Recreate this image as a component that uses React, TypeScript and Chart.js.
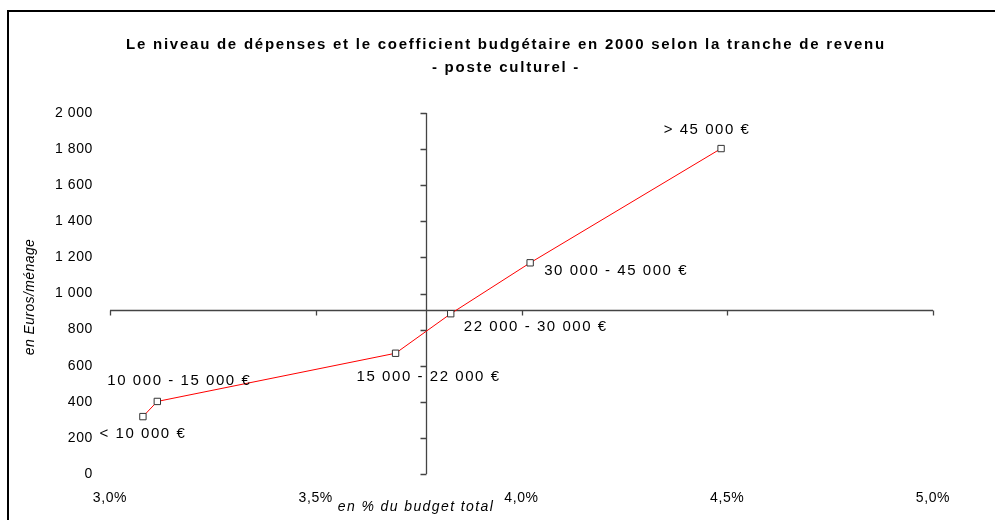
import React, { useEffect, useRef } from "react";
import { Chart, registerables } from "chart.js";

Chart.register(...registerables);

// ---- data ----
const shareOfBudget = [3.08, 3.115, 3.694, 3.828, 4.021, 4.485]; // % of total budget
const spending = [318, 402, 669, 888, 1170, 1803]; // euros per household
const bracketLabels = [
  "< 10 000 €",
  "10 000 - 15 000 €",
  "15 000 - 22 000 €",
  "22 000 - 30 000 €",
  "30 000 - 45 000 €",
  "> 45 000 €",
];
const titleLines = [
  "Le niveau de dépenses et le coefficient budgétaire en 2000 selon la tranche de revenu",
  "- poste culturel -",
];
const yAxisTitle = "en Euros/ménage";
const xAxisTitle = "en % du budget total";
const X_MIN = 3;
const X_MAX = 5;
const X_STEP = 0.5;
const Y_MIN = 0;
const Y_MAX = 2000;
const Y_STEP = 200;
const CROSS_X = 3.768; // vertical axis crosses here
const CROSS_Y = 910; // horizontal axis crosses here

// ---- style ----
const FONT = '"Liberation Sans", Arial, sans-serif';
const labelOffsets = [
  [0, 17],
  [22, -21],
  [33, 24],
  [85, 13],
  [86, 8],
  [-14, -19],
];

const formatY = (v: number) =>
  v >= 1000 ? `${Math.floor(v / 1000)} ${String(v % 1000).padStart(3, "0")}` : String(v);
const formatX = (v: number) => v.toFixed(1).replace(".", ",") + "%";

const decor = {
  id: "decor",
  beforeDraw(chart: any) {
    const ctx = chart.ctx;
    ctx.save();
    ctx.fillStyle = "#fff";
    ctx.fillRect(0, 0, chart.width, chart.height);
    ctx.fillStyle = "#000";
    ctx.fillRect(7, 10, 2, chart.height - 10);
    ctx.fillRect(7, 10, chart.width - 7, 2);
    ctx.font = `bold 15px ${FONT}`;
    ctx.letterSpacing = "1.75px";
    ctx.textAlign = "center";
    ctx.textBaseline = "middle";
    ctx.fillText(titleLines[0], 506, 45);
    ctx.fillText(titleLines[1], 506, 68);
    ctx.restore();
    ctx.letterSpacing = "0.6px";
  },
  beforeDatasetsDraw(chart: any) {
    const ctx = chart.ctx;
    const xs = chart.scales.x;
    const ys = chart.scales.y;
    const ax = Math.round(xs.getPixelForValue(CROSS_X)) + 0.5;
    const ay = Math.round(ys.getPixelForValue(CROSS_Y)) + 0.5;
    const x0 = xs.getPixelForValue(X_MIN);
    const x1 = xs.getPixelForValue(X_MAX);
    const y0 = ys.getPixelForValue(Y_MIN);
    const y1 = ys.getPixelForValue(Y_MAX);
    ctx.save();
    ctx.strokeStyle = "#444";
    ctx.lineWidth = 1.3;
    ctx.beginPath();
    ctx.moveTo(x0, ay);
    ctx.lineTo(x1, ay);
    for (let v = X_MIN; v <= X_MAX + 1e-9; v += X_STEP) {
      const px = Math.round(xs.getPixelForValue(v)) + 0.5;
      ctx.moveTo(px, ay);
      ctx.lineTo(px, ay + 5);
    }
    ctx.moveTo(ax, y0);
    ctx.lineTo(ax, y1);
    for (let v = Y_MIN; v <= Y_MAX; v += Y_STEP) {
      const py = Math.round(ys.getPixelForValue(v)) + 0.5;
      ctx.moveTo(ax, py);
      ctx.lineTo(ax - 6, py);
    }
    ctx.stroke();
    ctx.restore();
  },
  afterDatasetsDraw(chart: any) {
    const ctx = chart.ctx;
    const meta = chart.getDatasetMeta(0);
    ctx.save();
    ctx.fillStyle = "#000";
    ctx.textAlign = "center";
    ctx.textBaseline = "middle";
    ctx.font = `15px ${FONT}`;
    ctx.letterSpacing = "1.55px";
    meta.data.forEach((pt: any, i: number) => {
      const [dx, dy] = labelOffsets[i];
      ctx.fillText(bracketLabels[i], pt.x + dx, pt.y + dy);
    });
    ctx.font = `italic 14px ${FONT}`;
    ctx.letterSpacing = "1.4px";
    ctx.fillText(xAxisTitle, 416, 507);
    ctx.translate(30, 297);
    ctx.rotate(-Math.PI / 2);
    ctx.letterSpacing = "0.4px";
    ctx.fillText(yAxisTitle, 0, 0);
    ctx.restore();
  },
};

export default function App() {
  const ref = useRef<HTMLCanvasElement | null>(null);
  useEffect(() => {
    document.body.style.margin = "0";
    if (!ref.current) return;
    const chart = new Chart(ref.current, {
      type: "line",
      data: {
        datasets: [
          {
            data: shareOfBudget.map((x, i) => ({ x, y: spending[i] })),
            borderColor: "#ff0000",
            borderWidth: 1,
            pointStyle: "rect",
            pointRadius: 4.5,
            pointBorderWidth: 1,
            pointBorderColor: "#333",
            pointBackgroundColor: "#fff",
            tension: 0,
          },
        ],
      },
      options: {
        animation: false,
        responsive: false,
        devicePixelRatio: 1,
        layout: { padding: { top: 113, right: 62, left: 0, bottom: 0 } },
        plugins: { legend: { display: false }, tooltip: { enabled: false }, title: { display: false } },
        scales: {
          x: {
            type: "linear",
            min: X_MIN,
            max: X_MAX,
            grid: { display: false, drawTicks: false },
            border: { display: false },
            ticks: {
              stepSize: X_STEP,
              padding: 16,
              color: "#000",
              font: { family: FONT, size: 14 },
              callback: (v: any) => formatX(Number(v)),
              maxRotation: 0,
              autoSkip: false,
            },
            afterFit: (s: any) => {
              s.height = 46;
            },
          },
          y: {
            type: "linear",
            min: Y_MIN,
            max: Y_MAX,
            grid: { display: false, drawTicks: false },
            border: { display: false },
            ticks: {
              stepSize: Y_STEP,
              padding: 17,
              color: "#000",
              font: { family: FONT, size: 14 },
              callback: (v: any) => formatY(Number(v)),
            },
            afterFit: (s: any) => {
              s.width = 110;
            },
          },
        },
      } as any,
      plugins: [decor],
    });
    return () => chart.destroy();
  }, []);
  return <canvas ref={ref} width={995} height={520} style={{ display: "block", width: 995, height: 520 }} />;
}
